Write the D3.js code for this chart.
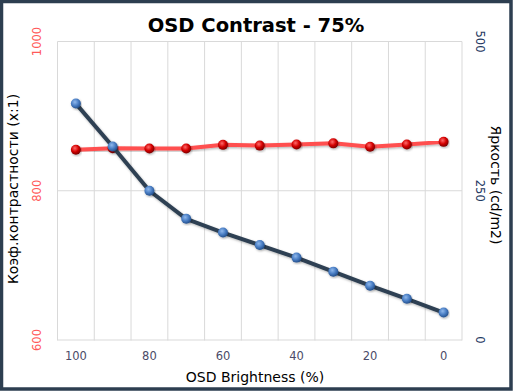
<!doctype html>
<html lang="en">
<head>
<meta charset="utf-8">
<title>OSD Contrast - 75%</title>
<style>
    body {
        margin: 0;
        padding: 0;
        background: white;
    }
    svg {
        display: block;
        font-family: 'DejaVu Sans', sans-serif;
    }
</style>
</head>
<body>
<svg id="chart"></svg>
<script src="https://cdnjs.cloudflare.com/ajax/libs/d3/7.8.5/d3.min.js"></script>
<script>

    var brightnessSteps = ["100", "90", "80", "70", "60", "50", "40", "30", "20", "10", "0"];
    var shownTicks = ["100", "80", "60", "40", "20", "0"];
    var contrastValues = [855, 857, 856.5, 856.5, 861.5, 860.5, 862, 863.5, 859, 862, 865.5];
    var luminanceValues = [396, 324, 250, 203, 180, 159, 138, 114.5, 91, 69, 46];
    var leftTicks = [600, 800, 1000];
    var rightTicks = [0, 250, 500];

    var svgWidth = 513, svgHeight = 391;
    var margin = { top: 41.5, right: 51, bottom: 51, left: 57.5 };
    var width = svgWidth - margin.left - margin.right;
    var height = svgHeight - margin.top - margin.bottom;

    var svg = d3.select("#chart")
        .attr("width", svgWidth)
        .attr("height", svgHeight);

    var defs = svg.append("defs");

    var blueGrad = defs.append("radialGradient")
        .attr("id", "blueBall").attr("cx", "40%").attr("cy", "35%").attr("r", "65%");
    blueGrad.append("stop").attr("offset", "0%").attr("stop-color", "#8fb8ec");
    blueGrad.append("stop").attr("offset", "55%").attr("stop-color", "#4a7ec4");
    blueGrad.append("stop").attr("offset", "100%").attr("stop-color", "#24508c");

    var redGrad = defs.append("radialGradient")
        .attr("id", "redBall").attr("cx", "40%").attr("cy", "35%").attr("r", "65%");
    redGrad.append("stop").attr("offset", "0%").attr("stop-color", "#ff6a6a");
    redGrad.append("stop").attr("offset", "55%").attr("stop-color", "#d40000");
    redGrad.append("stop").attr("offset", "100%").attr("stop-color", "#7a0000");

    var shadow = defs.append("filter").attr("id", "shadow")
        .attr("x", "-10%").attr("y", "-10%").attr("width", "120%").attr("height", "130%");
    shadow.append("feDropShadow")
        .attr("dx", 0.8).attr("dy", 1.2).attr("stdDeviation", 0.9)
        .attr("flood-color", "#000").attr("flood-opacity", 0.3);

    // frame
    svg.append("rect")
        .attr("x", 1.5).attr("y", 1.5)
        .attr("width", svgWidth - 3.5).attr("height", svgHeight - 3.5)
        .attr("fill", "white")
        .attr("stroke", "#2d3e50")
        .attr("stroke-width", 3.5);

    var g = svg.append("g")
        .attr("transform", "translate(" + margin.left + "," + margin.top + ")");

    var x = d3.scaleBand().domain(brightnessSteps).range([0, width]);
    var yLeft = d3.scaleLinear().domain([600, 1000]).range([height, 0]);
    var yRight = d3.scaleLinear().domain([0, 500]).range([height, 0]);

    // vertical grid at band edges
    var edges = brightnessSteps.map(function (d) { return x(d); }).concat([width]);
    g.selectAll(".vgrid").data(edges).enter().append("line")
        .attr("x1", function (d) { return d; }).attr("x2", function (d) { return d; })
        .attr("y1", 0).attr("y2", height + 0.5)
        .attr("stroke", "#d9d9d9").attr("stroke-width", 1);

    g.selectAll(".hgrid").data(leftTicks).enter().append("line")
        .attr("x1", 0).attr("x2", width)
        .attr("y1", function (d) { return yLeft(d); }).attr("y2", function (d) { return yLeft(d); })
        .attr("stroke", "#d9d9d9").attr("stroke-width", 1);

    // x tick labels
    g.selectAll(".xlab").data(shownTicks).enter().append("text")
        .attr("x", function (d) { return x(d) + x.bandwidth() / 2; })
        .attr("y", height + 20)
        .attr("text-anchor", "middle")
        .attr("font-size", 11.5)
        .attr("fill", "#4b4b68")
        .text(function (d) { return d; });

    // left tick labels (rotated)
    g.selectAll(".llab").data(leftTicks).enter().append("text")
        .attr("transform", function (d) { return "translate(-17," + yLeft(d) + ") rotate(-90)"; })
        .attr("text-anchor", "middle")
        .attr("font-size", 11.5)
        .attr("fill", "#ff5a5a")
        .text(function (d) { return d; });

    // right tick labels (rotated)
    g.selectAll(".rlab").data(rightTicks).enter().append("text")
        .attr("transform", function (d) { return "translate(" + (width + 14) + "," + yRight(d) + ") rotate(90)"; })
        .attr("text-anchor", "middle")
        .attr("font-size", 11.5)
        .attr("fill", "#1f3a63")
        .text(function (d) { return d; });

    // lines
    var contrastLine = d3.line()
        .x(function (d, i) { return x(brightnessSteps[i]) + x.bandwidth() / 2; })
        .y(function (d) { return yLeft(d); });
    var luminanceLine = d3.line()
        .x(function (d, i) { return x(brightnessSteps[i]) + x.bandwidth() / 2; })
        .y(function (d) { return yRight(d); });

    g.append("path").datum(contrastValues)
        .attr("d", contrastLine)
        .attr("fill", "none").attr("stroke", "#ff4f4f")
        .attr("stroke-width", 4).attr("stroke-linejoin", "round")
        .attr("filter", "url(#shadow)");

    g.selectAll(".cdot").data(contrastValues).enter().append("circle")
        .attr("cx", function (d, i) { return x(brightnessSteps[i]) + x.bandwidth() / 2; })
        .attr("cy", function (d) { return yLeft(d); })
        .attr("r", 5)
        .attr("fill", "url(#redBall)")
        .attr("filter", "url(#shadow)");

    g.append("path").datum(luminanceValues)
        .attr("d", luminanceLine)
        .attr("fill", "none").attr("stroke", "#2e4053")
        .attr("stroke-width", 4).attr("stroke-linejoin", "round")
        .attr("filter", "url(#shadow)");

    g.selectAll(".ldot").data(luminanceValues).enter().append("circle")
        .attr("cx", function (d, i) { return x(brightnessSteps[i]) + x.bandwidth() / 2; })
        .attr("cy", function (d) { return yRight(d); })
        .attr("r", 5)
        .attr("fill", "url(#blueBall)")
        .attr("filter", "url(#shadow)");

    // titles
    svg.append("text")
        .attr("x", 256).attr("y", 32)
        .attr("text-anchor", "middle")
        .attr("font-size", 19.5).attr("font-weight", "bold")
        .attr("fill", "#000")
        .text("OSD Contrast - 75%");

    svg.append("text")
        .attr("x", 255).attr("y", 382)
        .attr("text-anchor", "middle")
        .attr("font-size", 14)
        .attr("fill", "#000")
        .text("OSD Brightness (%)");

    svg.append("text")
        .attr("transform", "translate(18,189) rotate(-90)")
        .attr("text-anchor", "middle")
        .attr("font-size", 14)
        .attr("fill", "#000")
        .text("Коэф.контрастности  (x:1)");

    svg.append("text")
        .attr("transform", "translate(491,185) rotate(90)")
        .attr("text-anchor", "middle")
        .attr("font-size", 14)
        .attr("fill", "#000")
        .text("Яркость (cd/m2)");
</script>
</body>
</html>
